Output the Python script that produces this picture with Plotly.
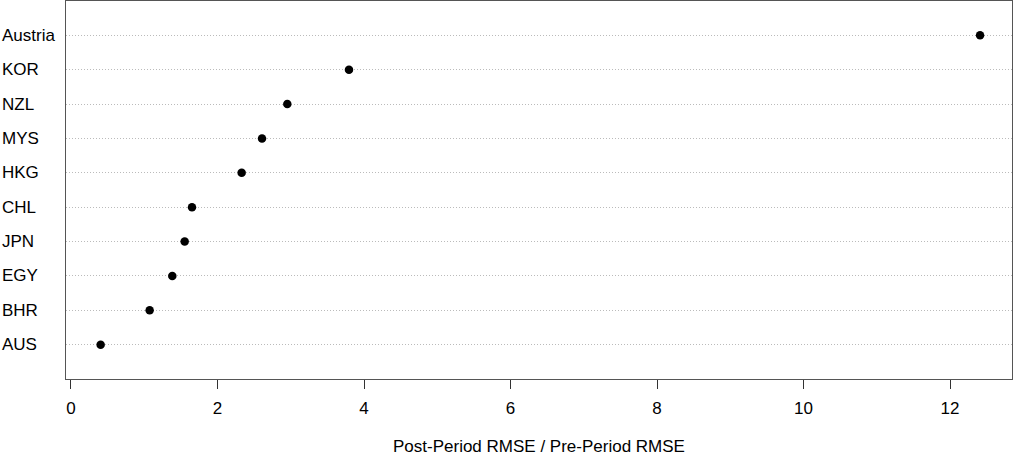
import plotly.graph_objects as go

countries = ["AUS", "BHR", "EGY", "JPN", "CHL", "HKG", "MYS", "NZL", "KOR", "Austria"]
ratios = [0.405, 1.074, 1.383, 1.552, 1.652, 2.330, 2.608, 2.953, 3.795, 12.41]
x_ticks = [0, 2, 4, 6, 8, 10, 12]
x_title = "Post-Period RMSE / Pre-Period RMSE"

positions = list(range(1, len(countries) + 1))

fig = go.Figure()
fig.add_trace(go.Scatter(
    x=ratios, y=positions, mode="markers",
    marker=dict(color="black", size=8.5, symbol="circle"),
    showlegend=False, hoverinfo="x+text", text=countries,
))

W, H = 1014, 457
ml, mr, mt, mb = 66, 2, 1, 78
pw = W - ml - mr
ph = H - mt - mb
FS = 17

annotations = []
for name, pos in zip(countries, positions):
    annotations.append(dict(
        x=(0 - ml) / pw, xref="paper", y=pos, yref="y",
        text=name, showarrow=False, xanchor="left", yanchor="middle",
        font=dict(family="Liberation Sans, Arial", size=FS, color="black"),
    ))
annotations.append(dict(
    x=0.5, xref="paper", y=(ph + mt - 446) / ph, yref="paper",
    text=x_title, showarrow=False, xanchor="center", yanchor="middle",
    borderpad=0,
    font=dict(family="Liberation Sans, Arial", size=FS, color="black"),
))

fig.update_layout(
    width=W, height=H,
    margin=dict(l=ml, r=mr, t=mt, b=mb),
    paper_bgcolor="white", plot_bgcolor="white",
    annotations=annotations,
    font=dict(family="Liberation Sans, Arial", size=FS, color="black"),
    xaxis=dict(
        range=[-0.068, 12.846], tickvals=x_ticks, ticks="outside", ticklen=9,
        tickcolor="#333333", tickwidth=1, showgrid=False, zeroline=False,
        showline=True, linecolor="#555555", linewidth=1, mirror=True,
        tickfont=dict(size=FS, color="black"), ticklabelstandoff=5,
    ),
    yaxis=dict(
        range=[0, 11], tickvals=positions, showticklabels=False, ticks="",
        showgrid=True, gridcolor="#bbbbbb", griddash="1px,2px", gridwidth=1,
        zeroline=False, showline=True, linecolor="#555555", linewidth=1, mirror=True,
    ),
)

fig.write_html("out.html")
